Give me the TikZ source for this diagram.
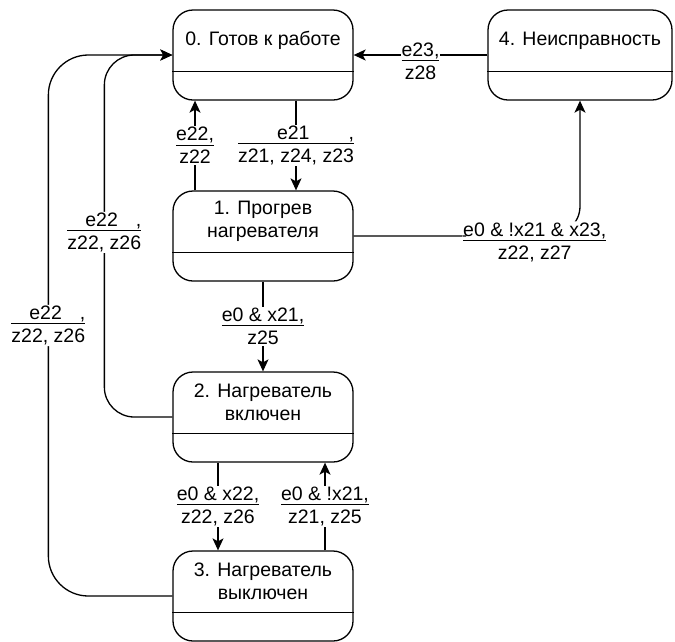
\documentclass[tikz,border=0pt]{standalone}
\usepackage{fontspec}
\setmainfont{Liberation Sans}
\usepackage{tikz}
\usetikzlibrary{arrows.meta,calc}
\newlength{\lblw}
% state: [width]{name}{position}{title}
\newcommand{\fsmstate}[4][180]{
  \node[statebox,minimum width=#1] (#2) at (#3) {};
  \draw ($(#2.north west)+(0,-62)$) -- ($(#2.north east)+(0,-62)$);
  \node[statetext] (#2t) at ($(#2.north)+(0,-31)$) {#4};
}
\newcommand{\padlabel}[2]{\settowidth{\lblw}{#2}\underline{\makebox[\lblw]{\hfill#1\hfill,}}\\#2}

\begin{document}
\begin{tikzpicture}[x=1pt,y=1pt,line width=1.3pt,font=\fontsize{19.5}{23}\selectfont]
\tikzstyle{statebox}=[draw,rounded corners=20,minimum height=90,inner sep=0]
\tikzstyle{statetext}=[align=center,inner sep=0]
\tikzstyle{trans}=[draw,-{Stealth[length=12pt,width=11pt,inset=3pt]}]
\tikzstyle{elabel}=[fill=white,align=center,inner sep=1pt]
\useasboundingbox (0,0) rectangle (675,-641);

\fsmstate{s0}{263,-55}{0. Готов к работе}
\fsmstate[184]{s4}{580,-55}{4. Неисправность}
\fsmstate{s1}{263,-236}{1. Прогрев\\нагревателя}
\fsmstate{s2}{263,-417}{2. Нагреватель\\включен}
\fsmstate{s3}{263,-596}{3. Нагреватель\\выключен}

\draw[trans] (s4) -- node[elabel,yshift=-6] (l40) {\underline{e23,}\\z28} (s0);
\draw[trans] ([xshift=33]s0.south) -- node[elabel] (l01) {\padlabel{e21}{z21, z24, z23}} ([xshift=33]s1.north);
\draw[trans] ([xshift=-68]s1.north) -- node[elabel] (l10) {\underline{e22,}\\z22} ([xshift=-68]s0.south);
\draw[trans] (s1) -- node[elabel] (l12) {\underline{e0 \& x21,}\\z25} (s2);
\draw[trans,rounded corners=30] (s1.east) -| node[elabel,pos=0.4,yshift=-6] (l14) {\underline{e0 \& !x21 \& x23,}\\z22, z27} (s4.south);
\draw[trans] ([xshift=-45]s2.south) -- node[elabel] (l23) {\underline{e0 \& x22,}\\z22, z26} ([xshift=-45]s3.north);
\draw[trans] ([xshift=62]s3.north) -- node[elabel] (l32) {\underline{e0 \& !x21,}\\z21, z25} ([xshift=62]s2.south);
\draw[trans,rounded corners=30] (s2.west) -- ++(-68,0) |- node[elabel,pos=0.255] (l20) {\padlabel{e22}{z22, z26}} (s0.west);
\draw[trans,rounded corners=40] (s3.west) -- ++(-124,0) |- node[elabel,pos=0.25] (l30) {\padlabel{e22}{z22, z26}} (s0.west);
\end{tikzpicture}
\end{document}
